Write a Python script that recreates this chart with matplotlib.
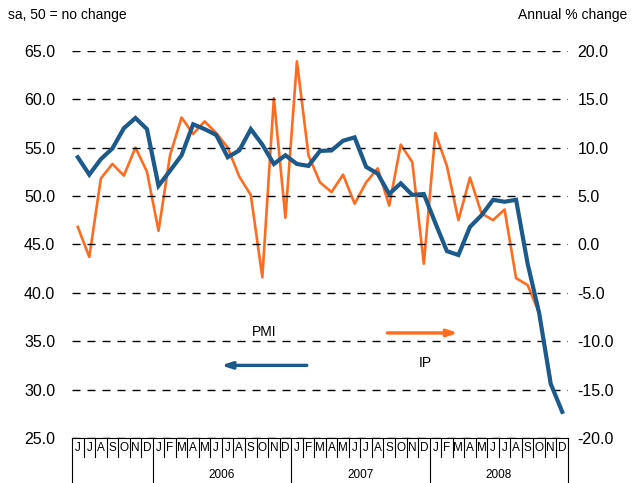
import matplotlib
matplotlib.use("Agg")
import matplotlib.pyplot as plt
import matplotlib.transforms as mtransforms

plt.rcParams['font.family'] = ['Liberation Sans', 'DejaVu Sans']

# Months Jun 2005 .. Dec 2008
month_labels = list("JJASOND") + list("JFMAMJJASOND") * 3
years = ["2006", "2007", "2008"]

pmi = [54.0, 52.2, 53.8, 54.9, 57.0, 58.05, 56.9, 51.05, 52.6, 54.2,
       57.4, 56.9, 56.3, 54.0, 54.7, 56.9, 55.3, 53.3, 54.2, 53.3,
       53.1, 54.65, 54.7, 55.7, 56.05, 53.0, 52.3, 50.2, 51.3, 50.1,
       50.2, 47.2, 44.3, 43.9, 46.8, 48.0, 49.6, 49.4, 49.6, 43.0,
       37.9, 30.6, 27.7]

ip = [1.8, -1.3, 6.8, 8.3, 7.1, 10.0, 7.5, 1.4, 9.2, 13.1,
      11.4, 12.7, 11.5, 10.0, 7.0, 5.1, -3.4, 15.1, 2.75, 18.9,
      9.2, 6.4, 5.4, 7.2, 4.2, 6.4, 7.85, 4.0, 10.3, 8.5,
      -2.0, 11.5, 8.1, 2.5, 6.9, 3.2, 2.5, 3.6, -3.5, -4.2,
      -7.1, -14.0]

left_ticks = [25, 30, 35, 40, 45, 50, 55, 60, 65]
right_ticks = [-20, -15, -10, -5, 0, 5, 10, 15, 20]

BLUE = "#1B5A8A"
ORANGE = "#FF6B1F"

W, H = 637, 483
fig = plt.figure(figsize=(W / 100, H / 100), dpi=100)
x0, x1, y_top, y_bot = 72, 568, 50.7, 438
ax = fig.add_axes([x0 / W, 1 - y_bot / H, (x1 - x0) / W, (y_bot - y_top) / H])
ax2 = ax.twinx()

n = len(month_labels)
ax.set_xlim(-0.5, n - 0.5)
ax.set_ylim(25, 65)
ax2.set_ylim(-20, 20)

for v in left_ticks:
    ax.axhline(v, color="black", lw=1.0, linestyle=(0, (5.8, 5.0)), zorder=0)

ax2.plot(range(len(ip)), ip, color=ORANGE, lw=1.9, zorder=3)
ax.plot(range(len(pmi)), pmi, color=BLUE, lw=3.0, zorder=4, solid_joinstyle="miter")
ax.set_zorder(ax2.get_zorder() + 1)
ax.patch.set_visible(False)

for a in (ax, ax2):
    for s in ("left", "right", "top", "bottom"):
        a.spines[s].set_visible(False)

ax.set_yticks(left_ticks)
ax.set_yticklabels([f"{v:.1f}" for v in left_ticks])
ax2.set_yticks(right_ticks)
ax2.set_yticklabels([f"{v:.1f}" for v in right_ticks])
ax.tick_params(axis="y", length=0, pad=12, labelsize=11.5)
ax2.tick_params(axis="y", length=0, pad=7, labelsize=11.5)
ax.set_xticks([])
ax2.set_xticks([])

# month box
trans = mtransforms.blended_transform_factory(ax.transData, ax.transAxes)
ax_h = y_bot - y_top
month_depth = -19 / ax_h
year_depth = -46 / ax_h
ax.plot([-0.5, n - 0.5], [0, 0], transform=trans, color="black", lw=0.8, clip_on=False)
for i in range(n + 1):
    xb = i - 0.5
    is_year = (i == 0) or (i == n) or ((i - 7) % 12 == 0)
    ax.plot([xb, xb], [0, year_depth if is_year else month_depth], transform=trans,
            color="black", lw=0.8, clip_on=False)
for i, lab in enumerate(month_labels):
    ax.text(i, -10 / ax_h, lab, transform=trans, ha="center", va="center", fontsize=8.5)
for k, yr in enumerate(years):
    xc = 7 + 12 * k + 5.5
    ax.text(xc, -37 / ax_h, yr, transform=trans, ha="center", va="center", fontsize=8.5)

# arrows and labels
ax.annotate("", xy=(12.2, 32.5), xytext=(20.1, 32.5),
            arrowprops=dict(arrowstyle="-|>,head_length=0.6,head_width=0.2", color=BLUE, lw=2.4))
ax.annotate("", xy=(33.2, 35.85), xytext=(26.6, 35.85),
            arrowprops=dict(arrowstyle="-|>,head_length=0.6,head_width=0.2", color=ORANGE, lw=2.4))
ax.text(16.2, 35.9, "PMI", ha="center", va="center", fontsize=10)
ax.text(30.1, 32.7, "IP", ha="center", va="center", fontsize=10)

fig.text(8 / W, 1 - 15 / H, "sa, 50 = no change", ha="left", va="center", fontsize=10)
fig.text(627 / W, 1 - 15 / H, "Annual % change", ha="right", va="center", fontsize=10)

fig.savefig("out.png", dpi=100)
